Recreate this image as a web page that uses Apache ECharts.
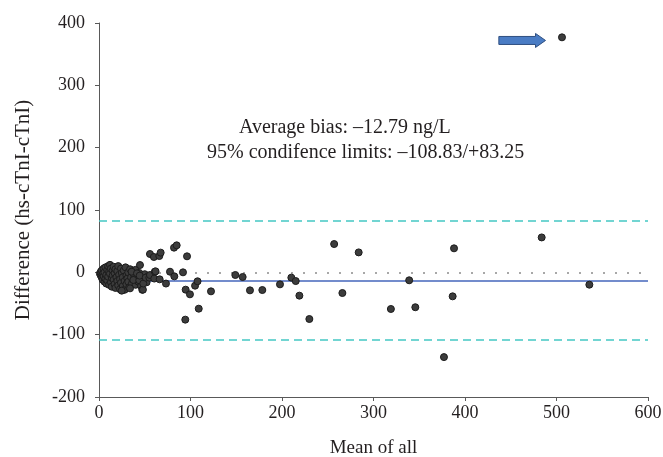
<!DOCTYPE html>
<html>
<head>
<meta charset="utf-8">
<script src="https://cdn.jsdelivr.net/npm/echarts@6/dist/echarts.min.js"></script>
<style>
  html, body { margin: 0; padding: 0; background: #fff; }
  #chart { width: 663px; height: 457px; }
</style>
</head>
<body>
<div id="chart"></div>
<script>
// mean of the two assays, difference between them
const meanAll = [
  1, 2, 2, 3, 3, 4, 4, 5, 5, 6, 6, 7, 7, 8, 8, 9, 9, 10, 10, 11, 11, 12, 12, 13, 13,
  14, 14, 15, 15, 16, 16, 17, 17, 18, 18, 19, 20, 20, 21, 21, 22, 23, 23, 24, 24, 25,
  26, 26, 27, 28, 28, 29, 30, 30, 31, 32, 32, 33, 34, 35, 36, 36, 38, 38, 40, 40, 42,
  43, 44, 46, 47, 50, 52, 54,
  24.8, 33.9, 35.7, 37.5, 41.5, 44, 44.5, 44.8, 47.3, 48, 48.4, 51, 55, 55.7, 55.7,
  60, 60.4, 61, 61.8, 65.9, 66.3, 67.4, 73.2, 77.6, 82, 82.3, 84.9, 91.8, 94.3, 94.7,
  96.2, 99.4, 105, 107.7, 109, 122.4,
  149, 157, 165, 178.5, 197.8, 210.2, 215, 219, 229.9, 257, 266, 283.8, 319,
  339, 345.7, 377, 386.5, 388, 483.8, 506, 535.9
];
const difference = [
  -2, -5, 1, -8, 3, -3, -12, 6, -6, -15, 0, -10, 8, -4, -18, 4, -13, 10, -7, -20, 1,
  -2, 12, -16, 6, -9, -23, 3, -5, -12, 9, -19, -1, -25, 5, -8, -14, 2, 10, -21, -4,
  -11, -27, 6, -17, -1, -8, -22, 3, -14, -28, 8, -5, -19, -10, -15, 0, -24, 5, -8,
  -18, 1, -3, -12, -20, 4, -7, -15, -1, -22, -10, -3, -16, -6,
  -29.4, -25.7, 1, -12.3, -1.6, -12.8, -5.3, 11.7, -28, -27.8, -18, -8.5, -8.5, 29.4,
  -4.3, 24.6, -10, 1, 1.6, 26.2, -11.2, 31.6, -18, 1, 39.6, -6.4, 43.3, 0, -75.9,
  -27.8, 25.7, -35.3, -21.4, -14.4, -58.3, -30.5,
  -4.3, -7.5, -28.9, -28.4, -19.3, -8.5, -14, -37.4, -74.9, 45.4, -33.2, 32, -58.8,
  -12.8, -56, -136, -38.5, 38.5, 56, 377, -19.8
];
const averageBias = -12.79;
const upperLimit = 83.25;
const lowerLimit = -108.83;
const xTicks = [0, 600, 100];
const yTicks = [-200, 400, 100];
const biasText = 'Average bias: \u201312.79 ng/L';
const limitText = '95% condifence limits: \u2013108.83/+83.25';
const arrowFrom = [437, 372];
const arrowTo = [488, 372];

const chart = echarts.init(document.getElementById('chart'));
const serif = '"Liberation Serif", "DejaVu Serif", serif';
const ink = '#231f20';

const points = meanAll.map((m, i) => [m, difference[i]]);

const option = {
  animation: false,
  backgroundColor: '#fff',
  textStyle: { fontFamily: serif },
  grid: { left: 99, right: 15, top: 23, bottom: 60, outerBoundsMode: 'none', containLabel: false },
  xAxis: {
    type: 'value',
    min: xTicks[0],
    max: xTicks[1],
    interval: xTicks[2],
    name: 'Mean of all',
    nameLocation: 'middle',
    nameGap: 42,
    nameTextStyle: { fontFamily: serif, fontSize: 19, color: ink },
    axisLine: { onZero: false, lineStyle: { color: '#595959', width: 1 } },
    axisTick: { length: 4, lineStyle: { color: '#595959' } },
    axisLabel: { fontFamily: serif, fontSize: 18, color: ink, margin: 7 },
    splitLine: { show: false }
  },
  yAxis: {
    type: 'value',
    min: yTicks[0],
    max: yTicks[1],
    interval: yTicks[2],
    name: 'Difference (hs-cTnI-cTnI)',
    nameLocation: 'middle',
    nameGap: 65,
    nameTextStyle: { fontFamily: serif, fontSize: 21, color: ink },
    axisLine: { show: true, onZero: false, lineStyle: { color: '#595959', width: 1 } },
    axisTick: { show: true, length: 4, lineStyle: { color: '#595959' } },
    axisLabel: { fontFamily: serif, fontSize: 18, color: ink, margin: 14 },
    splitLine: { show: false }
  },
  series: [
    {
      type: 'scatter',
      data: points,
      symbolSize: 7,
      itemStyle: { color: '#3c3c3c', borderColor: '#1c1c1c', borderWidth: 1, opacity: 1 },
      z: 5,
      markLine: {
        silent: true,
        symbol: 'none',
        label: { show: false },
        data: [
          { yAxis: 0, lineStyle: { color: '#8c8c8c', width: 1.5, type: [2, 10] } },
          { yAxis: averageBias, lineStyle: { color: '#4466bb', width: 1.5, type: 'solid' } },
          { yAxis: upperLimit, lineStyle: { color: '#44c8c4', width: 1.5, type: [8, 5] } },
          { yAxis: lowerLimit, lineStyle: { color: '#44c8c4', width: 1.5, type: [8, 5] } }
        ]
      }
    }
  ]
};

chart.setOption(option);

// block arrow pointing at the outlier, placed in data coordinates
const p0 = chart.convertToPixel({ gridIndex: 0 }, arrowFrom);
const p1 = chart.convertToPixel({ gridIndex: 0 }, arrowTo);
const shaft = 4, head = 7, headLen = 10;
const hx = p1[0] - headLen;
const cy = p0[1];

chart.setOption({
  graphic: [
    {
      type: 'polygon',
      shape: {
        points: [
          [p0[0], cy - shaft], [hx, cy - shaft], [hx, cy - head], [p1[0], cy],
          [hx, cy + head], [hx, cy + shaft], [p0[0], cy + shaft]
        ]
      },
      style: { fill: '#4a7cc4', stroke: '#2f4f80', lineWidth: 1 },
      z: 10
    },
    {
      type: 'text',
      left: 239,
      top: 118,
      style: { text: biasText, font: '20px ' + serif, fill: ink }
    },
    {
      type: 'text',
      left: 207,
      top: 143,
      style: { text: limitText, font: '20px ' + serif, fill: ink }
    }
  ]
});
</script>
</body>
</html>
